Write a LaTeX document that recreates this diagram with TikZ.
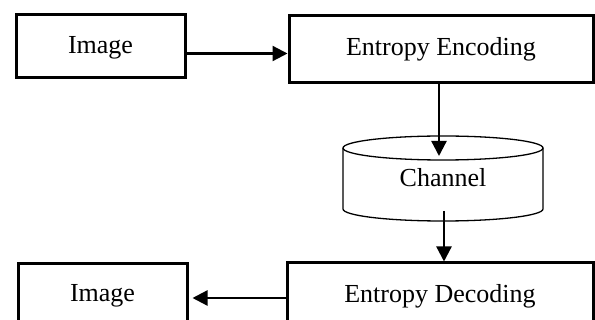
\documentclass[tikz,border=0pt]{standalone}
\usepackage{fontspec}
\setmainfont{Liberation Serif}
\usetikzlibrary{arrows.meta}
\begin{document}
\begin{tikzpicture}[x=1pt,y=-1pt,
  box/.style={draw,line width=3pt,rectangle,inner sep=0pt,text height=18pt,text depth=6pt,font=\fontsize{26}{30}\selectfont},
  lbl/.style={inner sep=0pt,text height=18pt,text depth=6pt,font=\fontsize{26}{30}\selectfont},
  arr/.style={line width=2.3pt,-{Triangle[length=15pt,width=15pt]}},
  cyl/.style={line width=1.3pt}]
\useasboundingbox (0,0) rectangle (595,320);
\clip (0,0) rectangle (595,320);
% boxes
\node[box,minimum width=169pt,minimum height=63pt] (im1) at (100.5,46.5) {\raisebox{-1.5pt}{Image}};
\node[box,minimum width=304pt,minimum height=67pt] (ee) at (441,49.5) {Entropy Encoding};
\node[box,minimum width=169pt,minimum height=63pt] (im2) at (102.5,295.5) {Image};
\node[box,minimum width=306pt,minimum height=67pt] (ed) at (440,296.5) {Entropy Decoding};
% channel cylinder
\draw[cyl] (343,148) -- (343,209) arc [start angle=180,end angle=360,x radius=100pt,y radius=12pt] -- (543,148);
\draw[cyl] (443,148) ellipse [x radius=100pt,y radius=12pt];
\node[lbl] (ch) at (443,181) {Channel};
\coordinate (chin) at (439,156);
\coordinate (chout) at (444,211);
% connectors
\draw[arr] ([yshift=-7pt]im1.east) -- ([yshift=-7pt]im1.east -| ee.west);
\draw[arr] (ee.south -| chin) -- (chin);
\draw[arr] (chout) -- (chout |- ed.north);
\draw[arr,shorten >=4pt] ([yshift=-1.5pt]ed.west) -- ([yshift=-1.5pt]ed.west -| im2.east);
\end{tikzpicture}
\end{document}
